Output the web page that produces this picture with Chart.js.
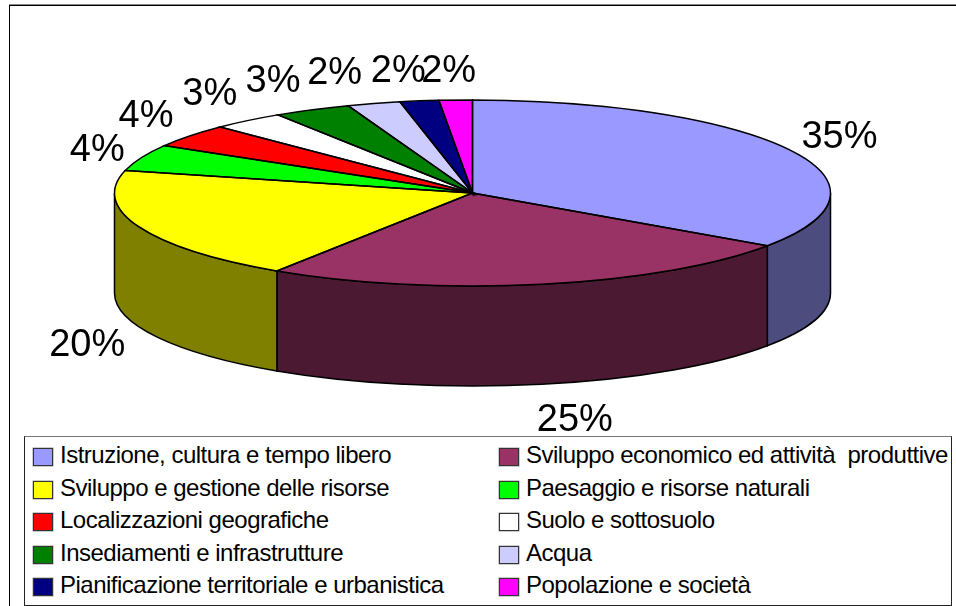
<!DOCTYPE html>
<html lang="it">
<head>
<meta charset="UTF-8">
<title>Torta 3D</title>
<style>
    html, body { margin:0; padding:0; background:#fff; width:956px; height:606px; overflow:hidden; }
    #wrap { position:relative; width:956px; height:606px; font-family:"Liberation Sans", Arial, sans-serif; color:#000; }
    canvas { position:absolute; left:0; top:0; }
    #frame { position:absolute; left:9px; top:5px; width:947px; height:601px; border-left:1px solid #000; border-top:1px solid #000; box-shadow:0 -1px 0 #888; box-sizing:border-box; }
    #legend { position:absolute; left:24px; top:436px; width:928px; height:170px; border:1px solid #222; border-top-color:#777; box-sizing:border-box; background:#fff; }
    .item { position:absolute; font-size:24px; line-height:26px; white-space:pre; letter-spacing:-0.5px; }
    .swatch { position:absolute; width:18px; height:16px; border:1px solid #333; box-shadow:0 0 0 .5px #999; }
</style>
</head>
<body>
<div id="wrap">
    <div id="frame"></div>
    <canvas id="myChart" width="956" height="606"></canvas>
    <div id="legend"></div>
</div>
<script src="https://cdnjs.cloudflare.com/ajax/libs/Chart.js/4.4.1/chart.umd.js"></script>
<script>
const categories = ["Istruzione, cultura e tempo libero", "Sviluppo economico ed attività  produttive", "Sviluppo e gestione delle risorse", "Paesaggio e risorse naturali", "Localizzazioni geografiche", "Suolo e sottosuolo", "Insediamenti e infrastrutture", "Acqua", "Pianificazione territoriale e urbanistica", "Popolazione e società"];
const values = [34.6, 24.6, 19.7, 4.6, 4.05, 3.3, 3.5, 2.4, 1.75, 1.5];
const percentLabels = ["35%", "25%", "20%", "4%", "4%", "3%", "3%", "2%", "2%", "2%"];
const colors = ["#9999FF", "#993366", "#FFFF00", "#00FF00", "#FF0000", "#FFFFFF", "#008000", "#CCCCFF", "#000080", "#FF00FF"];

const TILT = 0.26;   // squash of the circle into the ellipse
const DEPTH = 100;   // height of the side wall
// where each label sits relative to the rim point at the middle of its slice
const labelOffsets = [[50,-12], [33,136], [-52,119], [-44,-7], [-44,-19], [-38,-26], [-39,-28], [-39,-30], [-21,-29], [-7,-29]];

function darken(hex) {
    let n = parseInt(hex.slice(1), 16);
    return "rgb(" + ((n >> 16) >> 1) + "," + (((n >> 8) & 255) >> 1) + "," + ((n & 255) >> 1) + ")";
}

const pie3d = {
    id: "pie3d",
    beforeDatasetDraw(chart, args) {
        const ctx = chart.ctx;
        // side wall, only the part of each slice that faces the viewer
        args.meta.data.forEach(function (arc, i) {
            const p = arc.getProps(["x", "y", "startAngle", "endAngle", "outerRadius"]);
            let a1 = Math.max(p.startAngle, 0);
            let a2 = Math.min(p.endAngle, Math.PI);
            if (a2 <= a1) return;
            const r = p.outerRadius;
            ctx.beginPath();
            ctx.moveTo(p.x + r * Math.cos(a1), p.y + r * TILT * Math.sin(a1));
            ctx.ellipse(p.x, p.y, r, r * TILT, 0, a1, a2);
            ctx.lineTo(p.x + r * Math.cos(a2), p.y + r * TILT * Math.sin(a2) + DEPTH);
            ctx.ellipse(p.x, p.y + DEPTH, r, r * TILT, 0, a2, a1, true);
            ctx.closePath();
            ctx.fillStyle = darken(colors[i]);
            ctx.fill();
            ctx.lineWidth = 1.5;
            ctx.strokeStyle = "#000";
            ctx.stroke();
        });
        // the library draws the top face inside this squash
        const c = args.meta.data[0];
        ctx.save();
        ctx.translate(c.x, c.y);
        ctx.scale(1, TILT);
        ctx.translate(-c.x, -c.y);
    },
    afterDatasetDraw(chart, args) {
        const ctx = chart.ctx;
        ctx.restore();
        args.meta.data.forEach(function (arc, i) {
            const p = arc.getProps(["x", "y", "startAngle", "endAngle", "outerRadius"]);
            const r = p.outerRadius;
            ctx.beginPath();
            ctx.moveTo(p.x, p.y);
            ctx.ellipse(p.x, p.y, r, r * TILT, 0, p.startAngle, p.endAngle);
            ctx.closePath();
            ctx.lineWidth = 1.5;
            ctx.strokeStyle = "#000";
            ctx.stroke();

            const mid = (p.startAngle + p.endAngle) / 2;
            ctx.fillStyle = "#000";
            ctx.font = '38px "Liberation Sans", Arial, sans-serif';
            ctx.textAlign = "center";
            ctx.textBaseline = "middle";
            ctx.fillText(percentLabels[i],
                p.x + r * Math.cos(mid) + labelOffsets[i][0],
                p.y + r * TILT * Math.sin(mid) + labelOffsets[i][1]);
        });
    }
};

new Chart(document.getElementById("myChart"), {
    type: "pie",
    data: {
        labels: categories,
        datasets: [{ data: values, backgroundColor: colors, borderWidth: 0, clip: false, radius: 358 }]
    },
    options: {
        responsive: false,
        animation: false,
        events: [],
        layout: { padding: { right: 11, bottom: 220 } },
        plugins: { legend: { display: false }, tooltip: { enabled: false } }
    },
    plugins: [pie3d]
});

// legend box, two columns filled row by row
const legend = document.getElementById("legend");
categories.forEach(function (name, i) {
    const col = i % 2, row = Math.floor(i / 2);
    const sw = document.createElement("div");
    sw.className = "swatch";
    sw.style.left = (col ? 474 : 8) + "px";
    sw.style.top = (11 + row * 32.5) + "px";
    sw.style.background = colors[i];
    legend.appendChild(sw);
    const t = document.createElement("div");
    t.className = "item";
    t.style.left = (col ? 501 : 35) + "px";
    t.style.top = (5 + row * 32.5) + "px";
    t.textContent = name;
    legend.appendChild(t);
});
</script>
</body>
</html>
